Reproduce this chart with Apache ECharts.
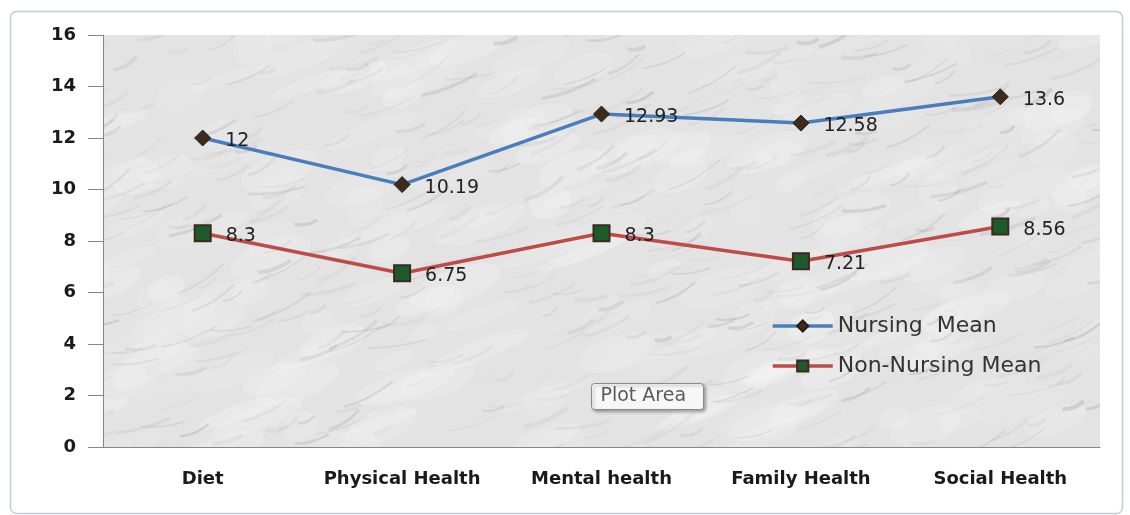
<!DOCTYPE html>
<html>
<head>
<meta charset="utf-8">
<script src="https://cdn.jsdelivr.net/npm/echarts@6/dist/echarts.min.js"></script>
<style>
  html, body { margin: 0; padding: 0; background: #fff; }
  #chart { width: 1130px; height: 515px; }
</style>
</head>
<body>
<div id="chart"></div>
<script>
const categories = ['Diet', 'Physical Health', 'Mental health', 'Family Health', 'Social Health'];
const nursingMean = [12, 10.19, 12.93, 12.58, 13.6];
const nonNursingMean = [8.3, 6.75, 8.3, 7.21, 8.56];
const seriesNames = ['Nursing  Mean', 'Non-Nursing Mean'];

const chart = echarts.init(document.getElementById('chart'));

// marble-ish texture for the plot area (purely decorative), sized to the whole canvas so no seams show
function marbleTexture() {
  const c = document.createElement('canvas');
  c.width = 1130; c.height = 515;
  const ctx = c.getContext('2d');
  ctx.fillStyle = '#e3e3e3';
  ctx.fillRect(0, 0, c.width, c.height);
  const hash = n => {
    const s = Math.sin(n * 127.1 + 311.7) * 43758.5453;
    return s - Math.floor(s);
  };
  // soft light patches
  for (let i = 0; i < 300; i++) {
    const x = hash(i + 7000) * c.width;
    const y = hash(i + 8000) * c.height;
    ctx.fillStyle = 'rgba(245,245,245,' + (0.12 + hash(i + 9000) * 0.2) + ')';
    ctx.beginPath();
    ctx.ellipse(x, y, 15 + hash(i + 9500) * 35, 6 + hash(i + 9700) * 12, -0.35, 0, Math.PI * 2);
    ctx.fill();
  }
  // grey veins
  for (let i = 0; i < 560; i++) {
    const x = hash(i) * c.width;
    const y = hash(i + 1000) * c.height;
    const len = 15 + hash(i + 2000) * 45;
    const ang = -0.6 + hash(i + 3000) * 0.5;
    const g = Math.round(140 + hash(i + 4000) * 60);
    ctx.strokeStyle = 'rgba(' + g + ',' + g + ',' + g + ',' + (0.08 + hash(i + 5000) * 0.2) + ')';
    ctx.lineWidth = 1 + hash(i + 6000) * 3;
    ctx.beginPath();
    ctx.moveTo(x, y);
    ctx.quadraticCurveTo(x + len * 0.5, y + Math.sin(ang) * len * 0.5 + 5, x + len * Math.cos(ang), y + len * Math.sin(ang));
    ctx.stroke();
  }
  return c;
}

const labelStyle = {
  show: true,
  position: 'right',
  distance: 14,
  offset: [0, 3],
  color: '#222',
  fontFamily: 'DejaVu Sans',
  fontSize: 19
};

const axisFont = {
  color: '#1a1a1a', fontFamily: 'DejaVu Sans', fontWeight: 'bold'
};

const option = {
  backgroundColor: '#fff',
  animation: false,
  grid: {
    left: 103, right: 30, top: 35, bottom: 68,
    show: true,
    backgroundColor: { image: marbleTexture(), repeat: 'no-repeat' },
    borderWidth: 0
  },
  legend: {
    orient: 'vertical',
    left: 766,
    top: 310,
    itemWidth: 60,
    itemHeight: 14,
    itemGap: 18,
    lineStyle: { width: 3.5 },
    textStyle: { color: '#333', fontFamily: 'DejaVu Sans', fontSize: 22 },
    data: seriesNames
  },
  xAxis: {
    type: 'category',
    data: categories,
    axisLine: { lineStyle: { color: '#868686', width: 1 } },
    axisTick: { interval: 0, length: 9, lineStyle: { color: '#868686' } },
    axisLabel: Object.assign({ interval: 0, margin: 23, fontSize: 18 }, axisFont)
  },
  yAxis: {
    type: 'value',
    min: 0, max: 16, interval: 2,
    splitLine: { show: false },
    axisLine: { show: true, lineStyle: { color: '#868686', width: 1 } },
    axisTick: { show: true, length: 15, lineStyle: { color: '#868686' } },
    axisLabel: Object.assign({ margin: 27, fontSize: 18 }, axisFont)
  },
  series: [
    {
      name: seriesNames[0],
      type: 'line',
      data: nursingMean,
      symbol: 'diamond',
      symbolSize: 16,
      itemStyle: { color: '#3d2b20', borderColor: '#2a1d15', borderWidth: 1 },
      lineStyle: { color: '#4a7ebb', width: 3.5 },
      label: labelStyle,
      z: 3
    },
    {
      name: seriesNames[1],
      type: 'line',
      data: nonNursingMean,
      symbol: 'rect',
      symbolSize: 16,
      itemStyle: { color: '#1d5b2c', borderColor: '#3a2a1d', borderWidth: 2 },
      lineStyle: { color: '#be4b48', width: 3.5 },
      label: labelStyle,
      z: 3
    }
  ],
  graphic: [
    {
      type: 'rect',
      left: 8, top: 9,
      shape: { width: 1112, height: 502, r: 6 },
      style: { fill: 'none', stroke: '#c3ccd6', lineWidth: 1.5 },
      silent: true
    },
    {
      type: 'group',
      left: 591, top: 383,
      children: [
        {
          type: 'rect',
          shape: { width: 112, height: 26, r: 3 },
          style: { fill: '#f7f7f7', stroke: '#8a8a8a', lineWidth: 1, shadowBlur: 3, shadowColor: 'rgba(0,0,0,0.3)', shadowOffsetX: 2, shadowOffsetY: 2 }
        },
        {
          type: 'text',
          left: 9, top: 3,
          style: { text: 'Plot Area', fill: '#5a5a5a', font: '19px "DejaVu Sans"' }
        }
      ]
    }
  ]
};

chart.setOption(option);
</script>
</body>
</html>
